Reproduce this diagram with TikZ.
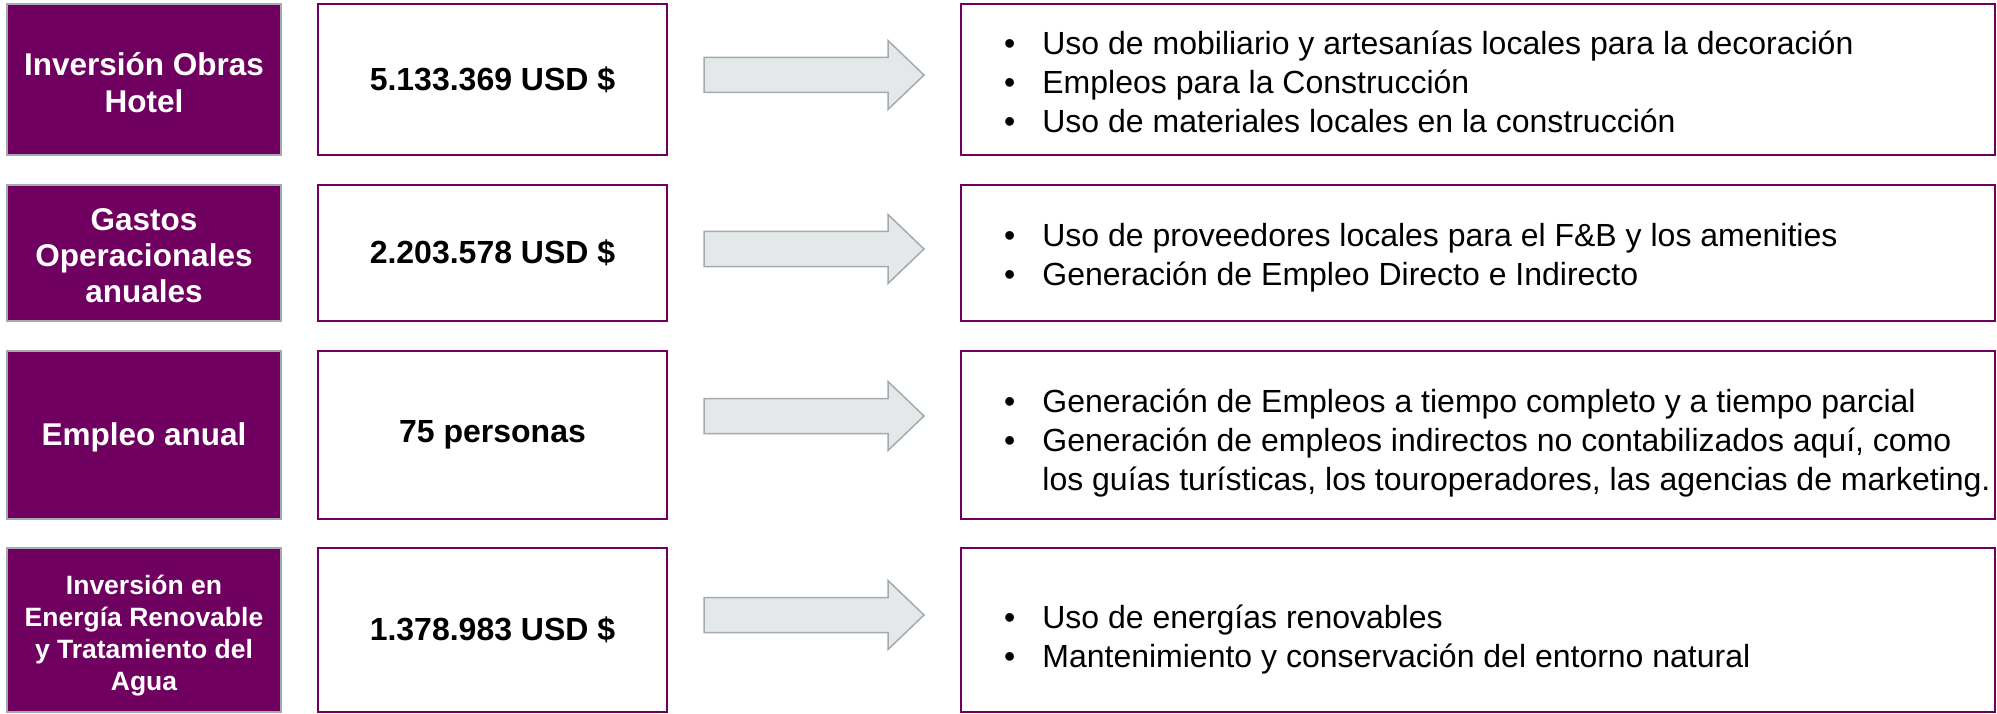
\documentclass[tikz,border=0pt]{standalone}
\usepackage{fontspec}
\setmainfont{Liberation Sans}
\usetikzlibrary{calc}
\definecolor{plum}{HTML}{700060}
\definecolor{edgegray}{HTML}{A3ABB1}
\definecolor{arrowfill}{HTML}{E4E8E9}
\tikzset{
  labelbox/.style={draw=edgegray, fill=plum, line width=2pt, inner sep=0pt,
    minimum width=274pt},
  labeltext/.style={text=white, font=\bfseries\fontsize{31.5}{37}\selectfont,
    align=center, inner sep=0pt},
  valuebox/.style={draw=plum, fill=white, line width=2pt,
    font=\bfseries\fontsize{32}{38}\selectfont, inner sep=0pt, minimum width=349pt},
  impactbox/.style={draw=plum, fill=white, line width=2pt, inner sep=0pt, minimum width=1034pt},
  impacttext/.style={anchor=west, font=\fontsize{32}{39}\selectfont, inner sep=0pt, align=left},
  blockarrow/.style={draw=edgegray, fill=arrowfill, line width=1.5pt, line join=miter}
}
\newcommand{\bulletlist}[1]{\begin{tabular}{@{}l@{\hspace{27pt}}l@{}}#1\end{tabular}}
\newcommand{\blockarr}[1]{%
  \draw[blockarrow] ($(#1)+(0,-17.5)$) -- ++(184,0) -- ++(0,-17) -- ++(36,34.5)
    -- ++(-36,34.5) -- ++(0,-17) -- ++(-184,0) -- cycle;}
\begin{document}
\begin{tikzpicture}[x=1pt,y=-1pt]
\useasboundingbox (0,0) rectangle (1997,714);

% Row 1
\node[labelbox, minimum height=151pt] (l1) at (144,79.5) {};
\node[labeltext] (lt1) at ($(l1.center)+(0,3)$) {Inversión Obras\\Hotel};
\node[valuebox, minimum height=151pt] (v1) at (492.5,79.5) {5.133.369 USD \$};
\coordinate (a1) at (704,75);
\blockarr{a1}
\node[impactbox, minimum height=151pt] (r1) at (1478,79.5) {};
\node[impacttext] (t1) at ($(r1.west)+(44,6)$) {\bulletlist{%
  •&Uso de mobiliario y artesanías locales para la decoración\\
  •&Empleos para la Construcción\\
  •&Uso de materiales locales en la construcción}};

% Row 2
\node[labelbox, minimum height=136pt] (l2) at (144,253) {};
\node[labeltext, font=\bfseries\fontsize{31.5}{36}\selectfont] (lt2) at ($(l2.center)+(0,3)$) {Gastos\\Operacionales\\anuales};
\node[valuebox, minimum height=136pt] (v2) at (492.5,253) {2.203.578 USD \$};
\coordinate (a2) at (704,249);
\blockarr{a2}
\node[impactbox, minimum height=136pt] (r2) at (1478,253) {};
\node[impacttext] (t2) at ($(r2.west)+(44,5)$) {\bulletlist{%
  •&Uso de proveedores locales para el F\&B y los amenities\\
  •&Generación de Empleo Directo e Indirecto}};

% Row 3
\node[labelbox, minimum height=168pt] (l3) at (144,435) {};
\node[labeltext] (lt3) at ($(l3.center)+(0,2)$) {Empleo anual};
\node[valuebox, minimum height=168pt] (v3) at (492.5,435) {75 personas};
\coordinate (a3) at (704,416);
\blockarr{a3}
\node[impactbox, minimum height=168pt] (r3) at (1478,435) {};
\node[impacttext] (t3) at ($(r3.west)+(44,9)$) {\bulletlist{%
  •&Generación de Empleos a tiempo completo y a tiempo parcial\\
  •&Generación de empleos indirectos no contabilizados aquí, como\\
  &los guías turísticas, los touroperadores, las agencias de marketing.}};

% Row 4
\node[labelbox, minimum height=164pt] (l4) at (144,630) {};
\node[labeltext, font=\bfseries\fontsize{26.5}{32}\selectfont] (lt4) at ($(l4.center)+(0,6)$) {Inversión en\\Energía Renovable\\y Tratamiento del\\Agua};
\node[valuebox, minimum height=164pt] (v4) at (492.5,630) {1.378.983 USD \$};
\coordinate (a4) at (704,615);
\blockarr{a4}
\node[impactbox, minimum height=164pt] (r4) at (1478,630) {};
\node[impacttext] (t4) at ($(r4.west)+(44,10)$) {\bulletlist{%
  •&Uso de energías renovables\\
  •&Mantenimiento y conservación del entorno natural}};
\end{tikzpicture}
\end{document}
